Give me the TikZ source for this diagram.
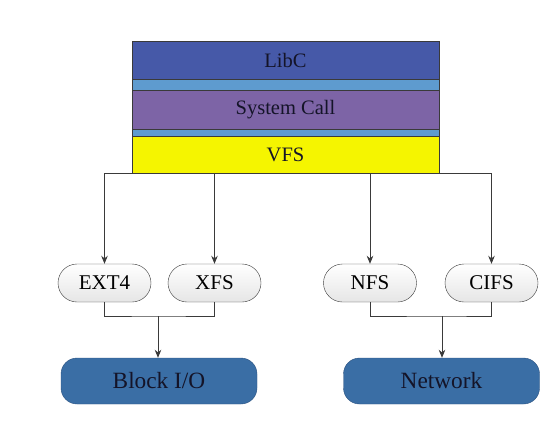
\documentclass[tikz,border=0pt]{standalone}
\usepackage{fontspec}
\newfontfamily\diagfont{Liberation Serif}
\usetikzlibrary{arrows,arrows.meta,positioning,shapes,calc}

\definecolor{libcblue}{HTML}{4659A8}
\definecolor{bandblue}{HTML}{5E9BCF}
\definecolor{syspurple}{HTML}{7D64A6}
\definecolor{vfsyellow}{HTML}{F5F500}
\definecolor{devblue}{HTML}{3A6EA5}
\definecolor{devedge}{HTML}{2C5280}
\definecolor{linegray}{HTML}{3A3A3A}
\definecolor{inkdark}{HTML}{141428}

\begin{document}
\begin{tikzpicture}[
		x=1pt,y=-1pt,
		>={Stealth[length=8pt,width=6.5pt]},
		layer/.style={
			draw=linegray,
			minimum width=307pt,
			inner sep=0pt,
			text=inkdark,
			font=\diagfont\fontsize{20.5}{24}\selectfont
		},
		band/.style={
			draw=linegray,
			fill=bandblue,
			minimum width=307pt,
			inner sep=0pt
		},
		fsbox/.style={
			draw=linegray,
			rounded corners=19pt,
			top color=white,
			bottom color=black!10,
			minimum width=93pt,
			minimum height=38pt,
			inner sep=0pt,
			font=\diagfont\fontsize{21}{25}\selectfont
		},
		devbox/.style={
			draw=devedge,
			fill=devblue,
			rounded corners=16pt,
			minimum width=196pt,
			minimum height=46pt,
			inner sep=0pt,
			text=inkdark,
			font=\diagfont\fontsize{23.3}{27}\selectfont
		},
		link/.style={
			->,
			draw=linegray,
			line width=0.8pt
		}
		]
		\useasboundingbox (0,0) rectangle (557,434);
		
		\node[layer,fill=libcblue,minimum height=38pt] (LIBC) at (285.5,60) {LibC};
		\node[band,minimum height=11pt] (BANDA) at (285.5,84.5) {};
		\node[layer,fill=syspurple,minimum height=39pt] (SYSCALL) at (285.5,109.5) {System Call};
		\node[band,minimum height=7pt] (BANDB) at (285.5,132.5) {};
		\node[layer,fill=vfsyellow,minimum height=37pt] (VFS) at (285.5,154.5) {VFS};
		
		\node[fsbox] (EXT4) at (104.5,283) {EXT4};
		\node[fsbox] (XFS) at (214.5,283) {XFS};
		\node[fsbox] (NFS) at (370,283) {NFS};
		\node[fsbox] (CIFS) at (491.5,283) {CIFS};
		
		\node[devbox] (BLOCK) at (159,381) {Block I/O};
		\node[devbox] (NET) at (441.5,381) {Network};
		
		\coordinate (JOINL) at (158,316);
		\coordinate (JOINR) at (442,316);
		
		% VFS fan-out
		\draw[linegray,line width=0.8pt] (EXT4 |- VFS.south) -- (CIFS |- VFS.south);
		\draw[link] (EXT4 |- VFS.south) -- (EXT4.north);
		\draw[link] (XFS |- VFS.south) -- (XFS.north);
		\draw[link] (NFS |- VFS.south) -- (NFS.north);
		\draw[link] (CIFS |- VFS.south) -- (CIFS.north);
		
		% merge down to devices
		\draw[linegray,line width=0.8pt] (EXT4.south) |- (JOINL) -| (XFS.south);
		\draw[link] (JOINL) -- (JOINL |- BLOCK.north);
		\draw[linegray,line width=0.8pt] (NFS.south) |- (JOINR) -| (CIFS.south);
		\draw[link] (JOINR) -- (JOINR |- NET.north);
		\end{tikzpicture}
\end{document}
